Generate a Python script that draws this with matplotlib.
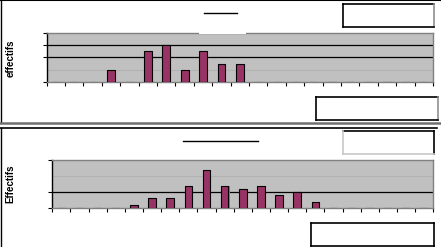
import matplotlib.pyplot as plt
from matplotlib.lines import Line2D
from matplotlib.patches import Rectangle

W, H = 441, 247

# category index (labels are blank in the source chart)
categories = list(range(21))

# top chart counts
top_values = [0, 0, 0, 2, 0, 5, 6, 2, 5, 3, 3, 0, 0, 0, 0, 0, 0, 0, 0, 0, 0]
# bottom chart counts
bottom_values = [0, 0, 0, 0, 2, 6, 6, 14, 24, 14, 12, 14, 8, 10, 4, 0, 0, 0, 0, 0, 0]

top_label = 'effectifs'
bottom_label = 'Effectifs'

BAR = '#993366'
BG = '#c0c0c0'

fig = plt.figure(figsize=(W / 100, H / 100), dpi=100)


def fx(x):
    return x / W


def fy(y):
    return 1 - y / H


def add_chart(left, top, right, bottom, values, ymax, dark, light, ylabel, lab_x, lab_y):
    ax = fig.add_axes([fx(left), fy(bottom), fx(right) - fx(left), (bottom - top) / H])
    ax.set_facecolor(BG)
    ax.set_xlim(-0.5, len(categories) - 0.5)
    ax.set_ylim(0, ymax)
    # little shadow behind the bars
    ax.bar([c + 0.06 for c in categories], values, width=0.42, color='#7f7f7f',
           linewidth=0, zorder=2)
    ax.bar(categories, values, width=0.42, color=BAR, edgecolor='black',
           linewidth=0.8, zorder=3)
    for g in dark:
        ax.axhline(g, color='black', linewidth=0.9, zorder=1)
    for g in light:
        ax.axhline(g, color='#b2b2b2', linewidth=0.8, zorder=1)
    ax.set_xticks([])
    ax.set_xticks([c - 0.5 for c in categories] + [len(categories) - 0.5], minor=True)
    ax.tick_params(axis='x', which='minor', direction='out', length=3, width=0.8,
                   color='black', labelbottom=False)
    ax.set_yticks([0] + dark + [ymax])
    ax.tick_params(axis='y', direction='out', length=3, width=0.8, labelleft=False)
    for s in ['top', 'right', 'bottom']:
        ax.spines[s].set_color('#808080')
        ax.spines[s].set_linewidth(1.0)
    ax.spines['left'].set_color('black')
    ax.spines['left'].set_linewidth(1.0)
    fig.text(fx(lab_x), fy(lab_y), ylabel, rotation=90, ha='center', va='center',
             fontsize=7, fontweight='bold', family=['Liberation Sans Narrow', 'Liberation Sans'])
    return ax


add_chart(46.7, 33.3, 433, 81.7, top_values, 8, [4, 6], [2], top_label, 11, 58)
add_chart(52.3, 160.3, 433.3, 208, bottom_values, 30, [10], [20], bottom_label, 10, 184)


def line(x0, y0, x1, y1, color='black', lw=1.0):
    fig.add_artist(Line2D([fx(x0), fx(x1)], [fy(y0), fy(y1)], color=color, linewidth=lw))


def box(x0, y0, x1, y1, edges):
    # edges: colours for top, right, bottom, left
    fig.add_artist(Rectangle((fx(x0), fy(y1)), fx(x1) - fx(x0), (y1 - y0) / H,
                             facecolor='white', edgecolor='none', zorder=5))
    t, r, b, l = edges
    fig.add_artist(Line2D([fx(x0), fx(x1)], [fy(y0)] * 2, color=t, lw=1.2, zorder=6))
    fig.add_artist(Line2D([fx(x1)] * 2, [fy(y0), fy(y1)], color=r, lw=1.2, zorder=6))
    fig.add_artist(Line2D([fx(x0), fx(x1)], [fy(y1)] * 2, color=b, lw=1.2, zorder=6))
    fig.add_artist(Line2D([fx(x0)] * 2, [fy(y0), fy(y1)], color=l, lw=1.2, zorder=6))


# panel frames
line(0, 0.5, W, 0.5, lw=1.5)
line(0.5, 0, 0.5, 122)
line(0, 123, W, 123, color='#707070', lw=1.8)
line(0, 128, 437, 128, lw=1.2)
line(0.5, 128, 0.5, H)

# white cover over the top chart border where the title box sits
fig.add_artist(Rectangle((fx(199), fy(34.3)), fx(246) - fx(199), 3.5 / H,
                         facecolor='white', edgecolor='none', zorder=5))

# title underlines (title text itself is blank)
line(204, 13, 237, 13, lw=1.0)
line(183, 141, 258, 141, lw=1.0)

# legend / label boxes
box(343, 4, 434, 27, ['black', '#909090', 'black', 'black'])
box(316, 97, 438, 120, ['black', '#909090', 'black', 'black'])
box(343, 131, 434, 154, ['black', 'black', '#c8c8c8', '#c8c8c8'])
box(311, 223, 434, 246, ['black', 'black', 'black', 'black'])

fig.savefig('out.png', dpi=100)
